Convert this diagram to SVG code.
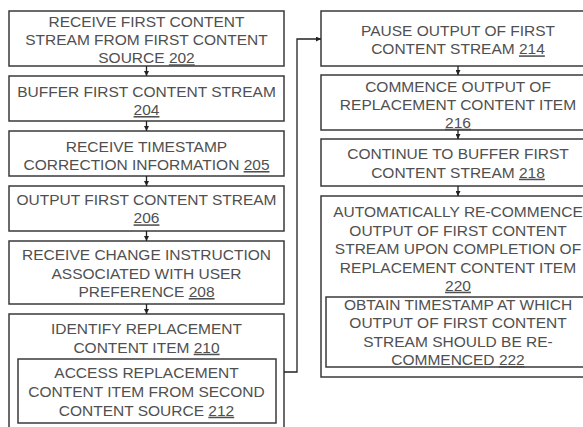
<svg xmlns="http://www.w3.org/2000/svg" width="583" height="427" viewBox="0 0 583 427">
<defs>
<marker id="ah" viewBox="0 0 10 10" refX="10" refY="5" markerWidth="5" markerHeight="5" orient="auto" markerUnits="userSpaceOnUse">
<path d="M0,0 L10,5 L0,10 z" fill="#222"/>
</marker>
<style>
.b{fill:#fff;stroke:#3a3a3a;stroke-width:1.5}
.t{font-family:"Liberation Sans",Arial,sans-serif;font-size:15.5px;fill:#505050;text-anchor:middle}
.u{text-decoration:underline}
.c{fill:none;stroke:#222;stroke-width:1.3}
</style>
</defs>
<rect width="583" height="427" fill="#fff"/>
<g id="n202"><rect class="b" x="9" y="11" width="275" height="55"/>
<text class="t" x="146.5" y="26.5">RECEIVE FIRST CONTENT</text>
<text class="t" x="146.5" y="45">STREAM FROM FIRST CONTENT</text>
<text class="t" x="146.5" y="63.3">SOURCE <tspan class="u">202</tspan></text></g>
<g id="n204"><rect class="b" x="9" y="76" width="275" height="45"/>
<text class="t" x="146.5" y="96.7">BUFFER FIRST CONTENT STREAM</text>
<text class="t" x="146.5" y="115"><tspan class="u">204</tspan></text></g>
<g id="n205"><rect class="b" x="9" y="131" width="275" height="45"/>
<text class="t" x="146.5" y="151.7">RECEIVE TIMESTAMP</text>
<text class="t" x="146.5" y="170">CORRECTION INFORMATION <tspan class="u">205</tspan></text></g>
<g id="n206"><rect class="b" x="9" y="186" width="275" height="45"/>
<text class="t" x="146.5" y="205">OUTPUT FIRST CONTENT STREAM</text>
<text class="t" x="146.5" y="223.3"><tspan class="u">206</tspan></text></g>
<g id="n208"><rect class="b" x="9" y="241" width="275" height="63"/>
<text class="t" x="146.5" y="260">RECEIVE CHANGE INSTRUCTION</text>
<text class="t" x="146.5" y="278.5">ASSOCIATED WITH USER</text>
<text class="t" x="146.5" y="297">PREFERENCE <tspan class="u">208</tspan></text></g>
<g id="n210"><rect class="b" x="9" y="314" width="275" height="120"/>
<text class="t" x="146.5" y="334">IDENTIFY REPLACEMENT</text>
<text class="t" x="146.5" y="352.7">CONTENT ITEM <tspan class="u">210</tspan></text></g>
<g id="n212"><rect class="b" x="18" y="359" width="258" height="64"/>
<text class="t" x="146.5" y="378.3">ACCESS REPLACEMENT</text>
<text class="t" x="146.5" y="397.3">CONTENT ITEM FROM SECOND</text>
<text class="t" x="146.5" y="415.7">CONTENT SOURCE <tspan class="u">212</tspan></text></g>
<g id="n214"><rect class="b" x="321" y="11" width="274" height="55"/>
<text class="t" x="458" y="35.7">PAUSE OUTPUT OF FIRST</text>
<text class="t" x="458" y="54.3">CONTENT STREAM <tspan class="u">214</tspan></text></g>
<g id="n216"><rect class="b" x="321" y="75" width="274" height="55"/>
<text class="t" x="458" y="91.7">COMMENCE OUTPUT OF</text>
<text class="t" x="458" y="110">REPLACEMENT CONTENT ITEM</text>
<text class="t" x="458" y="127.7"><tspan class="u">216</tspan></text></g>
<g id="n218"><rect class="b" x="321" y="139" width="274" height="47"/>
<text class="t" x="458" y="159.3">CONTINUE TO BUFFER FIRST</text>
<text class="t" x="458" y="177.7">CONTENT STREAM <tspan class="u">218</tspan></text></g>
<g id="n220"><rect class="b" x="321" y="196" width="274" height="181"/>
<text class="t" x="458" y="216.7">AUTOMATICALLY RE-COMMENCE</text>
<text class="t" x="458" y="235.7">OUTPUT OF FIRST CONTENT</text>
<text class="t" x="458" y="254">STREAM UPON COMPLETION OF</text>
<text class="t" x="458" y="272.7">REPLACEMENT CONTENT ITEM</text>
<text class="t" x="458" y="290.7"><tspan class="u">220</tspan></text></g>
<g id="n222"><rect class="b" x="326" y="297" width="264" height="70"/>
<text class="t" x="458" y="310">OBTAIN TIMESTAMP AT WHICH</text>
<text class="t" x="458" y="328.3">OUTPUT OF FIRST CONTENT</text>
<text class="t" x="458" y="346.7">STREAM SHOULD BE RE-</text>
<text class="t" x="458" y="365">COMMENCED <tspan class="u">222</tspan></text></g>
<g id="connectors">
<line class="c" x1="146.5" y1="66" x2="146.5" y2="76" marker-end="url(#ah)"/>
<line class="c" x1="146.5" y1="121" x2="146.5" y2="131" marker-end="url(#ah)"/>
<line class="c" x1="146.5" y1="176" x2="146.5" y2="186" marker-end="url(#ah)"/>
<line class="c" x1="146.5" y1="231" x2="146.5" y2="241" marker-end="url(#ah)"/>
<line class="c" x1="146.5" y1="304" x2="146.5" y2="314" marker-end="url(#ah)"/>
<polyline class="c" points="284,372 297,372 297,39 321,39" marker-end="url(#ah)"/>
<line class="c" x1="458" y1="66" x2="458" y2="75" marker-end="url(#ah)"/>
<line class="c" x1="458" y1="130" x2="458" y2="139" marker-end="url(#ah)"/>
<line class="c" x1="458" y1="186" x2="458" y2="196" marker-end="url(#ah)"/>
</g>
</svg>
